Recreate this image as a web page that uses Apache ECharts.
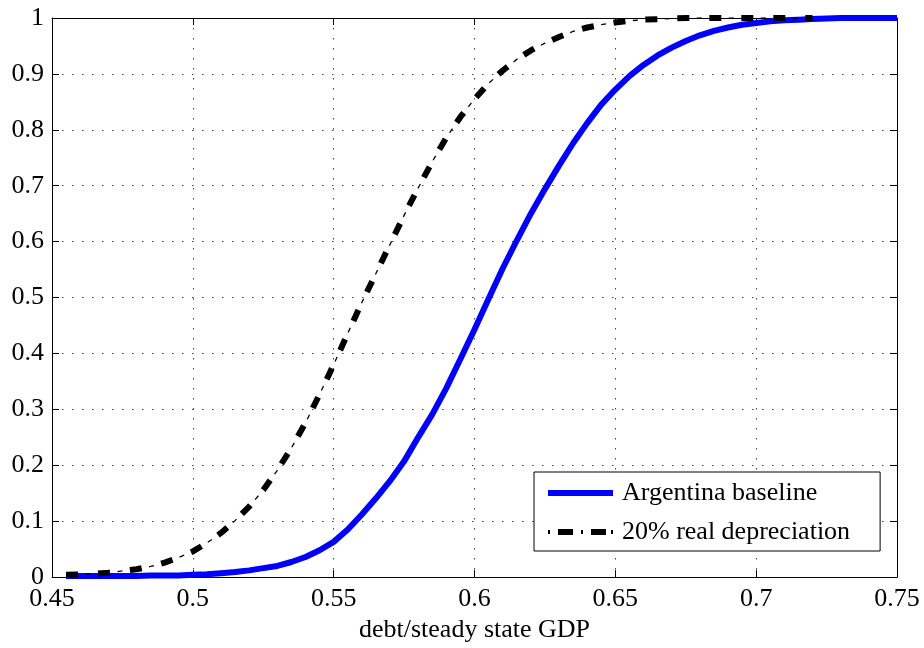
<!DOCTYPE html>
<html>
<head>
<meta charset="utf-8">
<title>Debt distribution</title>
<script src="https://cdn.jsdelivr.net/npm/echarts@6/dist/echarts.min.js"></script>
<style>
  html, body { margin: 0; padding: 0; background: #fff; }
  #chart { width: 924px; height: 648px; }
</style>
</head>
<body>
<div id="chart"></div>
<script>
// Debt/GDP grid (x values)
const debtRatio = [
  0.455, 0.460, 0.465, 0.470, 0.475, 0.480, 0.485, 0.490, 0.495, 0.500,
  0.505, 0.510, 0.515, 0.520, 0.525, 0.530, 0.535, 0.540, 0.545, 0.550,
  0.555, 0.560, 0.565, 0.570, 0.575, 0.580, 0.585, 0.590, 0.595, 0.600,
  0.605, 0.610, 0.615, 0.620, 0.625, 0.630, 0.635, 0.640, 0.645, 0.650,
  0.655, 0.660, 0.665, 0.670, 0.675, 0.680, 0.685, 0.690, 0.695, 0.700,
  0.705, 0.710, 0.715, 0.720, 0.725, 0.730, 0.735, 0.740, 0.745, 0.750
];

// Cumulative distribution, Argentina baseline
const baseline = [
  0.002, 0.002, 0.002, 0.002, 0.002, 0.002, 0.003, 0.003, 0.003, 0.004,
  0.005, 0.007, 0.009, 0.012, 0.016, 0.020, 0.027, 0.036, 0.048, 0.063,
  0.085, 0.112, 0.141, 0.172, 0.207, 0.250, 0.291, 0.338, 0.390, 0.443,
  0.498, 0.552, 0.602, 0.650, 0.694, 0.736, 0.776, 0.812, 0.845, 0.872,
  0.896, 0.916, 0.933, 0.947, 0.959, 0.969, 0.977, 0.983, 0.988, 0.991,
  0.994, 0.996, 0.997, 0.998, 0.999, 1.000, 1.000, 1.000, 1.000, 1.000
];

// Cumulative distribution, 20% real depreciation (first 54 grid points)
const depreciation = [
  0.004, 0.005, 0.006, 0.008, 0.011, 0.014, 0.019, 0.026, 0.035, 0.046,
  0.061, 0.079, 0.101, 0.126, 0.156, 0.191, 0.231, 0.276, 0.327, 0.380,
  0.436, 0.491, 0.543, 0.595, 0.647, 0.696, 0.743, 0.786, 0.823, 0.855,
  0.883, 0.906, 0.926, 0.942, 0.955, 0.966, 0.976, 0.983, 0.988, 0.992,
  0.995, 0.997, 0.998, 0.999, 1.000, 1.000, 1.000, 1.000, 1.000, 1.000,
  1.000, 1.000, 1.000, 1.000
];

const xTicks = { min: 0.45, max: 0.75, interval: 0.05 };
const yTicks = { min: 0, max: 1, interval: 0.1 };

const seriesNames = ['Argentina baseline', '20% real depreciation'];

const pairs = (xs, ys) => ys.map((y, i) => [xs[i], y]);

const FONT = "'Liberation Serif', 'Times New Roman', serif";
const gridDots = { color: '#444', width: 1, type: [1.5, 8.5] };

const fmt = v => String(+(+v).toFixed(2));

const axisLine = { show: true, onZero: false, lineStyle: { color: '#000', width: 1 } };
const axisTick = { show: true, inside: true, length: 7, lineStyle: { color: '#000', width: 1 } };

const chart = echarts.init(document.getElementById('chart'), null, { renderer: 'canvas' });

chart.setOption({
  animation: false,
  backgroundColor: '#fff',
  grid: { left: 52, right: 27, top: 18, bottom: 62, containLabel: false },
  xAxis: [
    {
      type: 'value', position: 'bottom',
      min: xTicks.min, max: xTicks.max, interval: xTicks.interval,
      name: 'debt/steady state GDP', nameLocation: 'middle', nameGap: 34,
      nameTextStyle: { fontFamily: FONT, fontSize: 26, color: '#000' },
      axisLine, axisTick,
      axisLabel: { show: true, margin: 9, fontFamily: FONT, fontSize: 26, color: '#000', formatter: fmt },
      splitLine: { show: true, lineStyle: gridDots }
    },
    {
      type: 'value', position: 'top',
      min: xTicks.min, max: xTicks.max, interval: xTicks.interval,
      axisLine, axisTick,
      axisLabel: { show: false },
      splitLine: { show: false }
    }
  ],
  yAxis: [
    {
      type: 'value', position: 'left',
      min: yTicks.min, max: yTicks.max, interval: yTicks.interval,
      axisLine, axisTick,
      axisLabel: { show: true, margin: 8, fontFamily: FONT, fontSize: 26, color: '#000', formatter: fmt },
      splitLine: { show: true, lineStyle: gridDots }
    },
    {
      type: 'value', position: 'right',
      min: yTicks.min, max: yTicks.max, interval: yTicks.interval,
      axisLine, axisTick,
      axisLabel: { show: false },
      splitLine: { show: false }
    }
  ],
  legend: {
    orient: 'vertical',
    left: 534, top: 472,
    padding: [8, 30, 6, 14],
    itemGap: 13,
    itemWidth: 65, itemHeight: 6,
    backgroundColor: '#fff',
    borderColor: '#000', borderWidth: 1, borderRadius: 0,
    selectedMode: false,
    textStyle: { fontFamily: FONT, fontSize: 26, lineHeight: 26, color: '#000', padding: [0, 0, 0, 4] },
    data: [
      { name: seriesNames[0], icon: 'rect', itemStyle: { color: '#0000ff' } },
      {
        name: seriesNames[1],
        itemStyle: { color: '#000' },
        // dot, dash, dot, dash, dot
        icon: 'path://M0,1h2v4h-2z M10,0h15v6h-15z M33,1h2v4h-2z M43,0h15v6h-15z M63,1h2v4h-2z'
      }
    ]
  },
  series: [
    {
      name: seriesNames[0],
      type: 'line',
      data: pairs(debtRatio, baseline),
      showSymbol: false,
      lineStyle: { color: '#0000ff', width: 6 }
    },
    {
      // thick dashes of the dash-dot line
      name: seriesNames[1],
      type: 'line',
      data: pairs(debtRatio, depreciation),
      showSymbol: false,
      lineStyle: { color: '#000', width: 6, type: [12, 20], dashOffset: 0, cap: 'butt' }
    },
    {
      // thin dots between the dashes
      name: seriesNames[1],
      type: 'line',
      data: pairs(debtRatio, depreciation),
      showSymbol: false,
      lineStyle: { color: '#000', width: 1.3, type: [5, 27], dashOffset: 12.5, cap: 'butt' }
    }
  ]
});
</script>
</body>
</html>
